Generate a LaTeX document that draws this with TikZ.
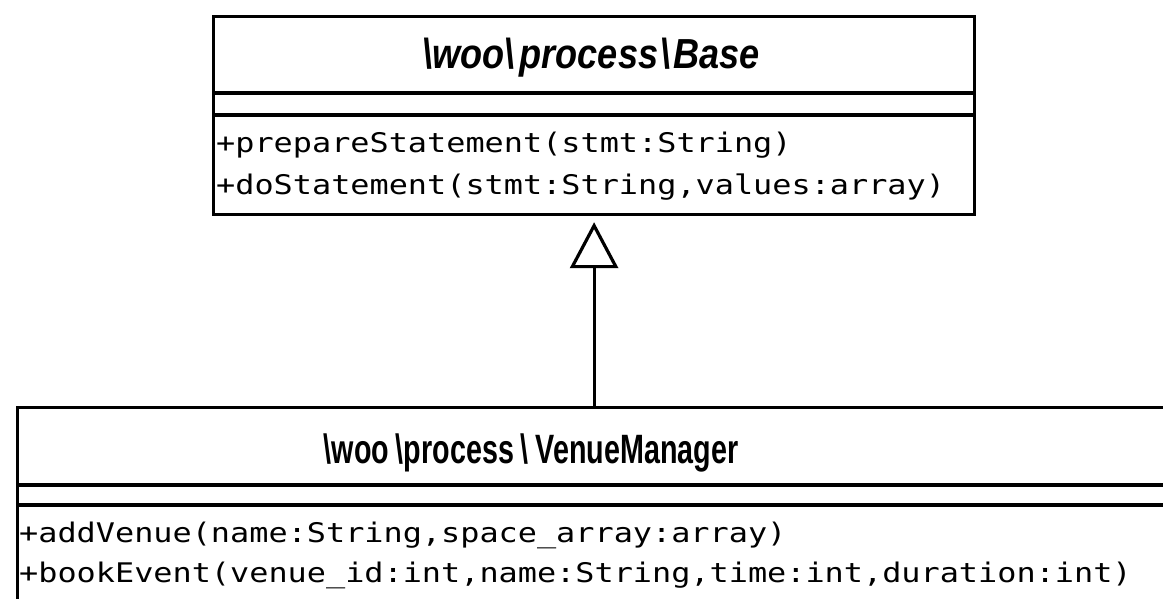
\documentclass[tikz,border=0pt]{standalone}
\usepackage{fontspec}
\usetikzlibrary{arrows.meta}
\newfontfamily\umlmono[FakeStretch=1.18]{DejaVu Sans Mono}
\newfontfamily\umltitlea[FakeStretch=0.86]{Liberation Sans}
\newfontfamily\umltitleb[FakeStretch=0.70]{Liberation Sans}
\newcommand{\bs}{\textbackslash}
\begin{document}
\begin{tikzpicture}[x=1pt,y=-1pt,
  classbox/.style={draw, line width=3.2pt, inner sep=0pt, anchor=north west},
  divider/.style={line width=3.2pt},
  methodtext/.style={anchor=base west, inner sep=0pt, font=\umlmono\fontsize{27}{27}\selectfont},
  titleit/.style={anchor=base, inner sep=0pt, font=\umltitlea\fontsize{42}{42}\selectfont\bfseries\itshape},
  titlebf/.style={anchor=base, inner sep=0pt, font=\umltitleb\fontsize{41}{41}\selectfont\bfseries},
  inherit/.style={line width=3.2pt, -{Triangle[open, length=46pt, width=48pt, fill=white]}}]
\useasboundingbox (0,0) rectangle (1163,598);
\clip (0,0) rectangle (1163,598);
% base class
\node[classbox, minimum width=761pt, minimum height=198pt] (base) at (212,15) {};
\draw[divider] ([yshift=-78pt]base.north west) -- ([yshift=-78pt]base.north east);
\draw[divider] ([yshift=-100pt]base.north west) -- ([yshift=-100pt]base.north east);
\node[titleit] (basetitle) at (591,68) {\bs woo\bs\hspace{5pt}process\hspace{2pt}\bs\hspace{3pt}Base};
\node[methodtext] (bm1) at (216,152) {+prepareStatement(stmt:String)};
\node[methodtext] (bm2) at (216,194) {+doStatement(stmt:String,values:array)};
% venue manager
\node[classbox, minimum width=1170pt, minimum height=230pt] (vm) at (16,406) {};
\draw[divider] ([yshift=-79pt]vm.north west) -- ([yshift=-79pt]vm.north east);
\draw[divider] ([yshift=-99pt]vm.north west) -- ([yshift=-99pt]vm.north east);
\node[titlebf] (vmtitle) at (531,463) {\bs woo\,\bs process\,\bs\,VenueManager};
\node[methodtext] (vm1) at (19,542) {+addVenue(name:String,space\_array:array)};
\node[methodtext] (vm2) at (19,582) {+bookEvent(venue\_id:int,name:String,time:int,duration:int)};
% generalization
\draw[inherit] (base.south |- vm.north) -- ([yshift=-6pt]base.south);
\end{tikzpicture}
\end{document}
